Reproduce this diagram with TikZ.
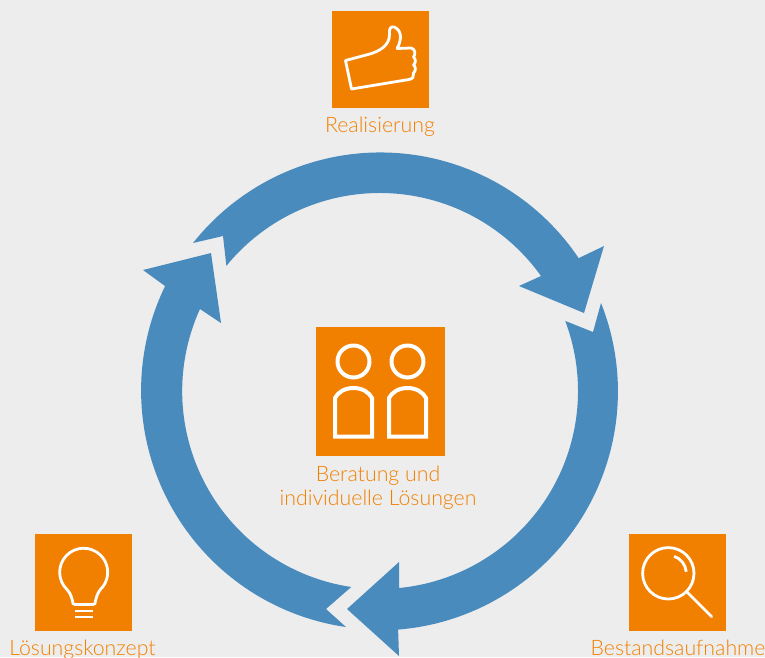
\documentclass[tikz,border=0pt]{standalone}
\usepackage{fontspec}
\setmainfont{Lato Light}
\definecolor{bgc}{HTML}{EDEDED}
\definecolor{orangec}{HTML}{F28000}
\definecolor{bluec}{HTML}{4A8BBE}
\tikzset{
  tile/.style={fill=orangec,draw=none,inner sep=0pt,outer sep=0pt,minimum size=#1},
  lbl/.style={text=orangec,inner sep=0pt,anchor=base,font=\fontsize{21.3}{24}\selectfont},
  icon/.style={draw=white,line width=#1,line join=round,line cap=round},
  icon/.default=3pt,
  cyclearrow/.style={fill=bluec,draw=none}
}
\begin{document}
\begin{tikzpicture}[x=1pt,y=-1pt]
\useasboundingbox (0,0) rectangle (765,657);
\clip (0,0) rectangle (765,657);
\fill[bgc] (0,0) rectangle (765,657);
% cycle arrows
\fill[cyclearrow] (193,243) arc[start angle=218.4,end angle=326.1,radius=239]
  -- (604,246) -- (584,313) -- (519,286) -- (541,276) arc[start angle=324.5,end angle=219.2,radius=198] -- (223,236) -- cycle;
\fill[cyclearrow] (601,303) arc[start angle=338.3,end angle=445.4,radius=239]
  -- (399,656) -- (347,609) -- (399,562) -- (399,588) arc[start angle=444.5,end angle=339.3,radius=198] -- (593,332) -- cycle;
\fill[cyclearrow] (346,627) arc[start angle=98.2,end angle=205.9,radius=239]
  -- (143,270) -- (211,253) -- (221,323) -- (200,309) arc[start angle=204.5,end angle=98.4,radius=198] -- (326,609) -- cycle;
% tiles
\node[tile=97pt] (real) at (380.5,59.5) {};
\node[tile=129pt] (bera) at (380.5,391.5) {};
\node[tile=97pt] (loes) at (83.5,582.5) {};
\node[tile=97pt] (best) at (677.5,582.5) {};
% labels
\node[lbl] (reallbl) at (380,132) {Realisierung};
\node[lbl] (beralbl) at (378,481) {Beratung und};
\node[lbl] (beralbl2) at (378,505) {individuelle Lösungen};
\node[lbl] (loeslbl) at (82.5,655) {Lösungskonzept};
\node[lbl] (bestlbl) at (678,655) {Bestandsaufnahme};
% thumb icon
\draw[icon=2.8pt] (345.5,60.5) -- (351.5,89) -- (409,79.5)
  .. controls (413,79) and (414,76) .. (413.5,73)
  .. controls (416,71) and (416,66.5) .. (413.5,65)
  .. controls (416,63) and (416,59) .. (413.5,57)
  .. controls (416,54) and (415,48.5) .. (411,48)
  -- (397,48.5)
  .. controls (402,40) and (402,30) .. (394,27)
  .. controls (390,26) and (389,30) .. (389.5,34)
  .. controls (390,46) and (378,52) .. (368,54.5)
  -- cycle;
% people icon
\draw[icon=4pt] (353.5,361.5) circle[radius=16];
\draw[icon=4pt] (407.5,361.5) circle[radius=16];
\draw[icon=4pt,line cap=butt,line join=miter] (335,398) .. controls (338,392) and (345,388) .. (353.5,388)
  .. controls (362,388) and (369,392) .. (372,398) -- (372,436.5) -- (335,436.5) -- cycle;
\draw[icon=4pt,line cap=butt,line join=miter] (389,398) .. controls (392,392) and (399,388) .. (407.5,388)
  .. controls (416,388) and (423,392) .. (426,398) -- (426,436.5) -- (389,436.5) -- cycle;
% bulb icon
\draw[icon=2.8pt] (73,603.5) .. controls (72,598) and (71,594) .. (67,589.5)
  arc[start angle=134,end angle=406,radius=24]
  .. controls (97,594) and (96,598) .. (95,603.5)
  .. controls (94.5,604.5) and (94,604.5) .. (93,604.5) -- (75,604.5)
  .. controls (74,604.5) and (73.5,604.5) .. (73,603.5) -- cycle;
\draw[icon=2.8pt,line cap=butt] (75,611) -- (92.5,611);
\draw[icon=2.8pt,line cap=butt] (75,617) -- (92.5,617);
% lens icon
\draw[icon=2.8pt] (668.3,573.3) circle[radius=25.7];
\draw[icon=2.8pt] (686.5,591.5) -- (711.5,616.5);
\draw[icon=2.8pt,line cap=butt] (668.3,573.3) ++(-71:18) arc[start angle=-71,end angle=-5,radius=18];
\end{tikzpicture}
\end{document}
